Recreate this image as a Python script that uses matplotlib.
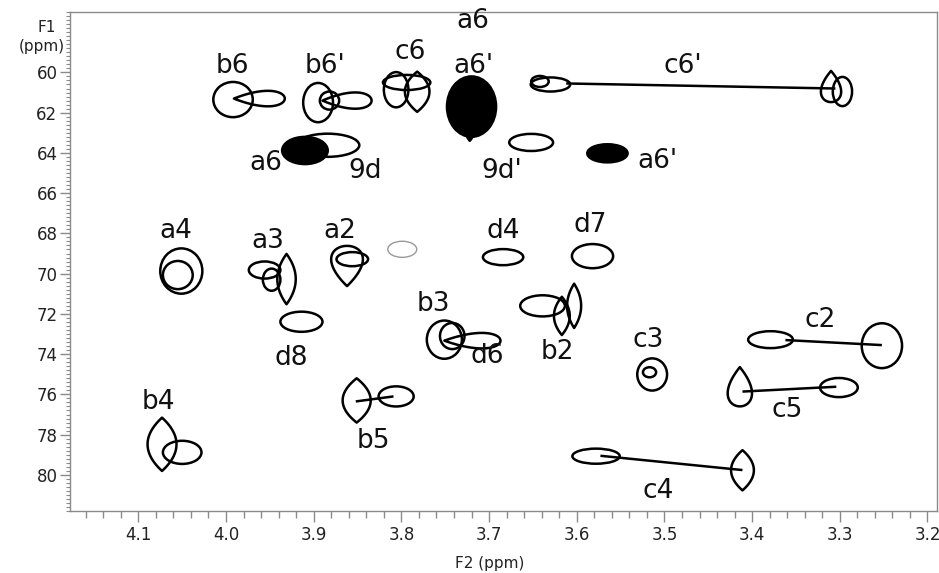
import numpy as np
import matplotlib
matplotlib.use("Agg")
import matplotlib.pyplot as plt
from matplotlib.patches import Ellipse, Polygon

plt.rcParams['font.family'] = ['DejaVu Sans']

# cross peak contours: shape, F2 centre, F1 centre, F2 width, F1 height
peak_kind = [
    'ell', 'dropR', 'ell', 'dropR', 'ell',            # b6, b6'
    'ell', 'lensV', 'ell',                            # c6
    'ell', 'lensV',                                   # a6/a6' (filled)
    'ell', 'ell', 'ell', 'ell',                       # 9d, a6, 9d', a6'
    'ell', 'ell', 'dropU', 'ell',                     # c6'
    'ell', 'ell',                                     # a4
    'ell', 'ell', 'lensV',                            # a3
    'dropD', 'ell',                                   # a2
    'ell', 'ell', 'ell',                              # d4, d7, d8
    'ell', 'ell', 'dropR',                            # b3, d6
    'ell', 'lensV', 'lensV',                          # b2
    'ell', 'ell',                                     # c3
    'ell', 'ell',                                     # c2
    'dropU', 'ell',                                   # c5
    'lensV', 'ell',                                   # b4
    'lensV', 'ell',                                   # b5
    'ell', 'lensV',                                   # c4
]
peak_x = [
    3.992, 3.962, 3.895, 3.862, 3.882,
    3.806, 3.782, 3.794,
    3.720, 3.722,
    3.884, 3.910, 3.652, 3.565,
    3.630, 3.642, 3.310, 3.297,
    4.051, 4.055,
    3.956, 3.948, 3.931,
    3.862, 3.856,
    3.684, 3.582, 3.914,
    3.751, 3.742, 3.719,
    3.639, 3.617, 3.603,
    3.514, 3.517,
    3.379, 3.252,
    3.414, 3.301,
    4.073, 4.050,
    3.851, 3.806,
    3.578, 3.411,
]
peak_y = [
    61.35, 61.30, 61.50, 61.40, 61.40,
    60.86, 60.96, 60.50,
    61.70, 63.00,
    63.62, 63.88, 63.48, 64.02,
    60.60, 60.45, 60.70, 60.95,
    69.87, 70.07,
    69.82, 70.30, 70.27,
    69.62, 69.28,
    69.18, 69.13, 72.39,
    73.28, 73.10, 73.33,
    71.60, 72.10, 71.60,
    75.01, 74.90,
    73.28, 73.58,
    75.62, 75.66,
    78.48, 78.88,
    76.30, 76.10,
    79.07, 79.77,
]
peak_w = [
    0.045, 0.058, 0.034, 0.056, 0.022,
    0.028, 0.028, 0.054,
    0.056, 0.008,
    0.072, 0.052, 0.050, 0.046,
    0.045, 0.020, 0.030, 0.022,
    0.048, 0.034,
    0.036, 0.020, 0.021,
    0.047, 0.036,
    0.046, 0.047, 0.048,
    0.040, 0.028, 0.064,
    0.051, 0.018, 0.016,
    0.034, 0.015,
    0.051, 0.046,
    0.036, 0.043,
    0.033, 0.044,
    0.032, 0.040,
    0.054, 0.026,
]
peak_h = [
    1.75, 1.00, 1.95, 1.05, 0.90,
    1.75, 2.00, 0.75,
    3.00, 0.80,
    1.15, 1.35, 0.85, 0.90,
    0.70, 0.55, 1.55, 1.45,
    2.25, 1.40,
    0.85, 1.10, 2.50,
    2.00, 0.70,
    0.80, 1.20, 1.00,
    1.90, 1.30, 1.00,
    1.05, 1.90, 2.20,
    1.60, 0.50,
    0.84, 2.23,
    1.95, 0.95,
    2.65, 1.15,
    2.20, 1.00,
    0.75, 2.00,
]
filled_peaks = [8, 9, 11, 13]

# faint grey peak
grey_peak = (3.799, 68.79, 0.033, 0.80)

# links between related peaks (F2 start, F1 start, F2 end, F1 end)
link_x0 = [3.612, 3.362, 3.411, 3.852, 3.573]
link_y0 = [60.55, 73.30, 75.86, 76.35, 79.05]
link_x1 = [3.305, 3.252, 3.304, 3.809, 3.411]
link_y1 = [60.80, 73.55, 75.62, 76.10, 79.76]

# peak labels
lab_text = ['b6', "b6'", 'c6', 'a6', "a6'", "c6'", 'a6', '9d', "9d'", "a6'",
            'a4', 'a3', 'a2', 'd4', 'd7', 'b3', 'd8', 'd6', 'b2', 'c3',
            'c2', 'c5', 'b4', 'b5', 'c4']
lab_x = [3.993, 3.887, 3.790, 3.718, 3.718, 3.479, 3.955, 3.841, 3.685, 3.508,
         4.057, 3.952, 3.870, 3.684, 3.585, 3.764, 3.926, 3.702, 3.622, 3.518,
         3.322, 3.360, 4.077, 3.832, 3.507]
lab_y = [59.70, 59.70, 59.00, 57.45, 59.70, 59.70, 64.50, 64.90, 64.90, 64.40,
         67.90, 68.40, 67.90, 67.90, 67.60, 71.50, 74.20, 74.10, 73.90, 73.30,
         72.30, 76.80, 76.40, 78.30, 80.80]


def outline(kind, cx, cy, w, h):
    t = np.linspace(0, 2 * np.pi, 160)
    c, s = np.cos(t), np.sin(t)
    xs = cx + w / 2 * c
    ys = cy + h / 2 * s
    if kind == 'lensV':
        xs = cx + w / 2 * s * np.abs(s)
        ys = cy + h / 2 * c
    elif kind == 'dropR':
        ys = cy + h / 2 * s * np.sqrt((1 - c) / 2)
    elif kind == 'dropL':
        ys = cy + h / 2 * s * np.sqrt((1 + c) / 2)
    elif kind == 'dropU':
        xs = cx + w / 2 * s * np.sqrt((1 + c) / 2)
        ys = cy + h / 2 * c
    elif kind == 'dropD':
        xs = cx + w / 2 * s * np.sqrt((1 - c) / 2)
        ys = cy + h / 2 * c
    return np.column_stack([xs, ys])


fig = plt.figure(figsize=(9.39, 5.73), dpi=100)
ax = fig.add_axes([0.0745, 0.108, 0.9235, 0.871])

for i, (k, x, y, w, h) in enumerate(zip(peak_kind, peak_x, peak_y, peak_w, peak_h)):
    fc = 'black' if i in filled_peaks else 'none'
    if k == 'ell':
        p = Ellipse((x, y), w, h, facecolor=fc, edgecolor='black', lw=1.8)
    else:
        p = Polygon(outline(k, x, y, w, h), closed=True, facecolor=fc,
                    edgecolor='black', lw=1.8, joinstyle='round')
    ax.add_patch(p)

gx, gy, gw, gh = grey_peak
ax.add_patch(Ellipse((gx, gy), gw, gh, facecolor='none', edgecolor='#999999', lw=1.0))

for x0, y0, x1, y1 in zip(link_x0, link_y0, link_x1, link_y1):
    ax.plot([x0, x1], [y0, y1], color='black', lw=1.8, solid_capstyle='butt')

for t, x, y in zip(lab_text, lab_x, lab_y):
    ax.text(x, y, t, fontsize=19, ha='center', va='center', color='#111111')

ax.set_xlim(4.178, 3.189)
ax.set_ylim(81.8, 57.0)

major_x = np.round(np.arange(3.2, 4.15, 0.1), 1)
ax.set_xticks(major_x)
ax.set_xticklabels(['%.1f' % v for v in major_x])
ax.set_xticks(np.arange(3.20, 4.18, 0.02), minor=True)
ax.set_yticks(np.arange(60, 81, 2))
ax.set_yticks(np.arange(57.0, 81.81, 0.2), minor=True)

for sp in ax.spines.values():
    sp.set_color('#8a8a8a')
    sp.set_linewidth(1.0)
ax.tick_params(axis='both', which='major', colors='#8a8a8a', labelcolor='#222222',
               labelsize=12, width=1.0)
ax.tick_params(axis='x', which='major', length=8, pad=3)
ax.tick_params(axis='x', which='minor', length=5, colors='#8a8a8a', width=1.0)
ax.tick_params(axis='y', which='major', length=7, pad=2)
ax.tick_params(axis='y', which='minor', length=3, colors='#8a8a8a', width=0.8)

fig.text(0.0495, 0.952, 'F1', fontsize=11, ha='center', va='center', color='#222222')
fig.text(0.0445, 0.918, '(ppm)', fontsize=11, ha='center', va='center', color='#222222')
fig.text(0.522, 0.017, 'F2 (ppm)', fontsize=11, ha='center', va='center', color='#222222')

fig.savefig('out.png', dpi=100)
